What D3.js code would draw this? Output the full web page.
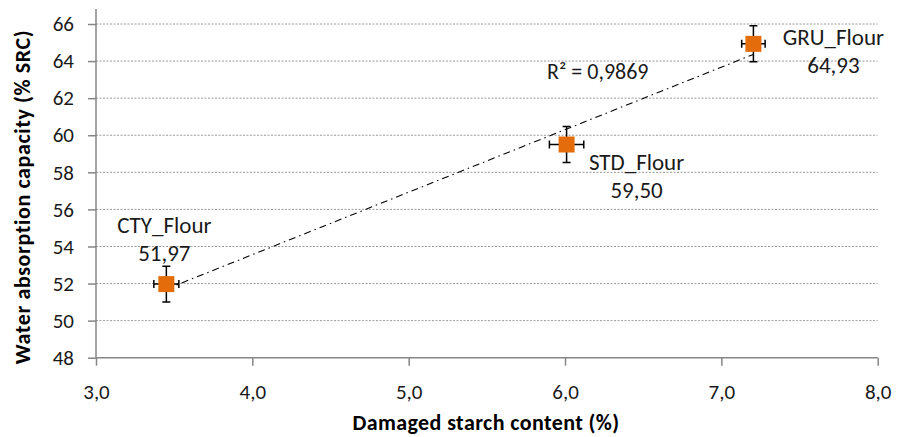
<!DOCTYPE html>
<meta charset="utf-8">
<script src="https://d3js.org/d3.v7.min.js"></script>
<style>
  body { margin: 0; background: #fff; }
  text { font-family: Carlito, Lato, "Liberation Sans", sans-serif; }
</style>
<body>
<div id="canvas"></div>
<script>

  // dados
  var names = ["CTY_Flour", "STD_Flour", "GRU_Flour"];
  var starch = [3.45, 6.01, 7.205];        // Damaged starch content (%)
  var src = [51.97, 59.50, 64.93];         // Water absorption capacity (%SRC)
  var errX = [0.08, 0.11, 0.075];
  var errY = [0.96, 0.97, 0.97];
  var xTicks = [3, 4, 5, 6, 7, 8];
  var yTicks = [48, 50, 52, 54, 56, 58, 60, 62, 64, 66];
  var r2Label = "R² = 0,9869";

  var width = 897;
  var height = 437;
  var mLeft = 96, mRight = 877.7, mTop = 9, mBottom = 357.7;

  var svg = d3.select("#canvas")
    .append("svg")
      .attr("width", width)
      .attr("height", height);

  var x = d3.scaleLinear().domain([3, 8]).range([mLeft, mRight]);
  var y = d3.scaleLinear().domain([48, 66.81]).range([mBottom, mTop]);

  var comma = function(f) { return function(d) { return d3.format(f)(d).replace(".", ","); }; };

  // linhas de grade pontilhadas
  svg.append("g")
    .selectAll("line")
    .data(yTicks.filter(function(d) { return d > 48; }))
    .enter().append("line")
      .attr("x1", mLeft).attr("x2", mRight)
      .attr("y1", function(d) { return y(d); })
      .attr("y2", function(d) { return y(d); })
      .attr("stroke", "#9a9a9a")
      .attr("stroke-width", 1)
      .attr("stroke-dasharray", "2,1.5");

  // eixo x
  var xAxis = svg.append("g")
    .attr("transform", "translate(0," + mBottom + ")")
    .call(d3.axisBottom(x).tickValues(xTicks).tickSize(8).tickPadding(18).tickFormat(comma(".1f")));

  // eixo y
  var yAxis = svg.append("g")
    .attr("transform", "translate(" + mLeft + ",0)")
    .call(d3.axisLeft(y).tickValues(yTicks).tickSize(8).tickPadding(14).tickFormat(d3.format("d")));

  [xAxis, yAxis].forEach(function(a) {
    a.select(".domain").attr("stroke", "#868686").attr("stroke-width", 1.5);
    a.selectAll(".tick line").attr("stroke", "#868686").attr("stroke-width", 1.5);
    a.selectAll("text").attr("fill", "#1a1a1a").style("font-size", "21px")
      .style("font-family", "Carlito, Lato, sans-serif");
  });
  // o eixo y vai ate o topo da area, sem marca
  yAxis.select(".domain").attr("d", "M0," + mBottom + "V" + mTop);
  xAxis.select(".domain").attr("d", "M" + mLeft + ",0H" + mRight);

  // linha de tendencia (minimos quadrados)
  var mx = d3.mean(starch), my = d3.mean(src);
  var sxy = d3.sum(starch, function(d, i) { return (d - mx) * (src[i] - my); });
  var sxx = d3.sum(starch, function(d) { return (d - mx) * (d - mx); });
  var slope = sxy / sxx, icpt = my - slope * mx;
  var xr = d3.extent(starch);
  svg.append("line")
    .attr("x1", x(xr[0])).attr("y1", y(icpt + slope * xr[0]))
    .attr("x2", x(xr[1])).attr("y2", y(icpt + slope * xr[1]))
    .attr("stroke", "#000")
    .attr("stroke-width", 1.1)
    .attr("stroke-dasharray", "7,4,1.5,4");

  var pts = names.map(function(n, i) {
    return { name: n, x: starch[i], y: src[i], ex: errX[i], ey: errY[i] };
  });

  // barras de erro
  var eb = svg.append("g").attr("stroke", "#000").attr("stroke-width", 1.5);
  pts.forEach(function(d) {
    var cx = x(d.x), cy = y(d.y);
    var y0 = y(d.y - d.ey), y1 = y(d.y + d.ey);
    var x0 = x(d.x - d.ex), x1 = x(d.x + d.ex);
    eb.append("path").attr("fill", "none").attr("d",
      "M" + cx + "," + y0 + "V" + y1 +
      "M" + (cx - 4) + "," + y0 + "H" + (cx + 4) +
      "M" + (cx - 4) + "," + y1 + "H" + (cx + 4) +
      "M" + x0 + "," + cy + "H" + x1 +
      "M" + x0 + "," + (cy - 4) + "V" + (cy + 4) +
      "M" + x1 + "," + (cy - 4) + "V" + (cy + 4));
  });

  // marcadores quadrados
  svg.append("g").selectAll("rect")
    .data(pts)
    .enter().append("rect")
      .attr("x", function(d) { return x(d.x) - 8; })
      .attr("y", function(d) { return y(d.y) - 8; })
      .attr("width", 16)
      .attr("height", 16)
      .attr("fill", "#E46C0A");

  // rotulos (deslocamento em relacao ao ponto)
  var labelOff = [[-2, -51], [70, 25], [80, 1]];
  var lab = svg.append("g").attr("text-anchor", "middle").attr("fill", "#1a1a1a").style("font-size", "23px");
  pts.forEach(function(d, i) {
    var lx = x(d.x) + labelOff[i][0], ly = y(d.y) + labelOff[i][1];
    lab.append("text").attr("x", lx).attr("y", ly).text(d.name);
    lab.append("text").attr("x", lx).attr("y", ly + 28).text(comma(".2f")(d.y));
  });

  svg.append("text")
    .attr("x", 547).attr("y", 79)
    .attr("fill", "#1a1a1a")
    .style("font-size", "22px")
    .text(r2Label);

  // titulos dos eixos
  svg.append("text")
    .attr("x", 486).attr("y", 430)
    .attr("text-anchor", "middle")
    .style("font-size", "22px").style("font-weight", "bold").style("letter-spacing", "0.4px")
    .text("Damaged starch content (%)");

  svg.append("text")
    .attr("transform", "translate(30,197) rotate(-90)")
    .attr("text-anchor", "middle")
    .style("font-size", "22px").style("font-weight", "bold").style("letter-spacing", "0.6px")
    .text("Water absorption capacity (% SRC)");
</script>
</body>
